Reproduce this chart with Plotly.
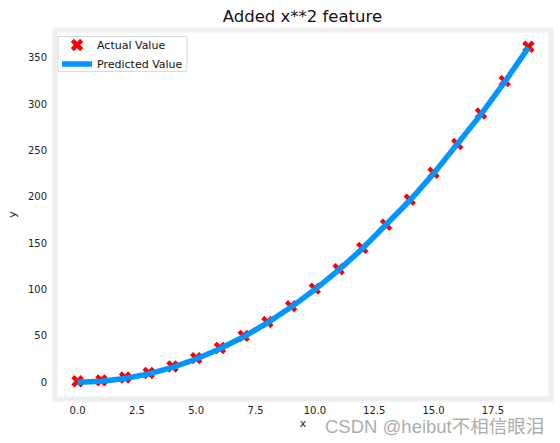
import plotly.graph_objects as go

x_vals = list(range(20))
actual_y = [1, 2, 5, 10, 17, 26, 37, 50, 65, 82, 101, 122, 145, 170, 197, 226, 257, 290, 325, 362]
predicted_y = [0.05, 1.05, 4.05, 9.05, 16.05, 25.05, 36.05, 49.05, 64.05, 81.05, 100.05,
               121.05, 144.05, 169.05, 196.05, 225.05, 256.05, 289.05, 324.05, 361.05]
x_ticks = [0.0, 2.5, 5.0, 7.5, 10.0, 12.5, 15.0, 17.5]
y_ticks = [0, 50, 100, 150, 200, 250, 300, 350]

FONT = "DejaVu Sans"
W, H = 560, 443
ML, MR, MT, MB = 55, 8.5, 29.5, 43.5
PW, PH = W - ML - MR, H - MT - MB


def px_x(p):
    return (p - ML) / PW


def px_y(p):
    return (H - MB - p) / PH


fig = go.Figure()
fig.add_trace(go.Scatter(
    x=x_vals, y=actual_y, mode="markers", name="Actual Value",
    marker=dict(symbol="x", size=11, color="#ff0000", line=dict(width=0)),
))
fig.add_trace(go.Scatter(
    x=x_vals, y=predicted_y, mode="lines", name="Predicted Value",
    line=dict(color="#0096ff", width=5.5),
))

fig.update_layout(
    width=W, height=H,
    margin=dict(l=ML, r=MR, t=MT, b=MB),
    paper_bgcolor="white", plot_bgcolor="white",
    font=dict(family=FONT, size=10, color="#222222"),
    title=dict(text="Added x**2 feature", x=0.54, xanchor="center", y=1 - 16 / H, yanchor="middle",
               font=dict(family=FONT, size=16.5, color="#111111")),
    showlegend=True,
    legend=dict(x=px_x(57), y=px_y(30), xanchor="left", yanchor="top",
                bgcolor="rgba(0,0,0,0)", borderwidth=0,
                font=dict(family=FONT, size=11, color="#111111"),
                itemwidth=30, tracegroupgap=0),
    xaxis=dict(range=[-0.95, 19.95], tickvals=x_ticks, ticktext=["%.1f" % v for v in x_ticks],
               showgrid=False, zeroline=False, showline=False, ticks="",
               ticklabelstandoff=4,
               title=dict(text="x", font=dict(family=FONT, size=11), standoff=4)),
    yaxis=dict(range=[-18.1, 380.1], tickvals=y_ticks, showgrid=False, zeroline=False,
               showline=False, ticks="", ticklabelstandoff=7,
               title=dict(text="y", font=dict(family=FONT, size=11), standoff=9)),
    shapes=[
        dict(type="rect", xref="paper", yref="paper", x0=0, x1=1, y0=0, y1=1,
             line=dict(color="#efefef", width=5), layer="below"),
        dict(type="rect", xref="paper", yref="paper", x0=px_x(58), x1=px_x(187),
             y0=px_y(71), y1=px_y(36), line=dict(color="#d8d8d8", width=1),
             fillcolor="rgba(255,255,255,0.8)", layer="above"),
    ],
    annotations=[dict(text="CSDN @heibut不相信眼泪", xref="paper", yref="paper",
                      x=px_x(546), y=px_y(427), xanchor="right", yanchor="middle", showarrow=False,
                      font=dict(family="Liberation Sans, Noto Sans CJK SC", size=18.5,
                                color="rgba(150,150,150,0.8)"))],
)

fig.write_html("out.html")
